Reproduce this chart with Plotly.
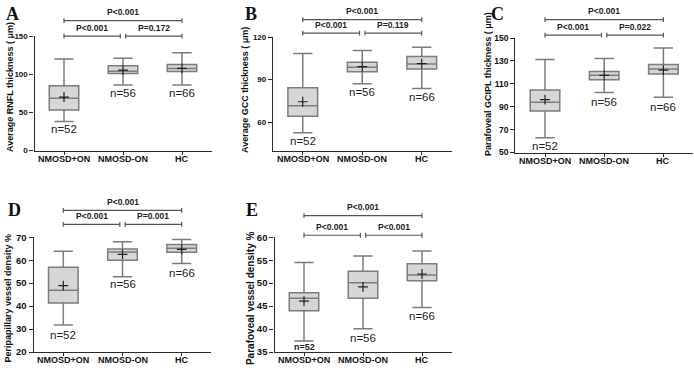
import plotly.graph_objects as go

W, H = 694, 370

groups = ["NMOSD+ON", "NMOSD-ON", "HC"]
n_counts = [52, 56, 66]

# Panel A: Average RNFL thickness
a_low = [38, 86, 86]
a_q1 = [53, 101, 103.5]
a_med = [68.5, 104, 107.5]
a_q3 = [84.8, 111.2, 112.8]
a_high = [120, 121, 128]
a_mean = [70, 105.3, 107.8]

# Panel B: Average GCC thickness
b_low = [52.5, 87.1, 83.7]
b_q1 = [64.1, 95.6, 97.4]
b_med = [71.6, 98.8, 101.0]
b_q3 = [84.2, 102.2, 106.3]
b_high = [108.4, 110.6, 112.9]
b_mean = [74.4, 99.2, 101.3]

# Panel C: Parafoveal GCIPL thickness
c_low = [63.0, 102.4, 98.2]
c_q1 = [86.3, 113.5, 118.6]
c_med = [93.9, 117.5, 122.9]
c_q3 = [104.7, 120.7, 126.8]
c_high = [131.3, 132.2, 141.2]
c_mean = [96.2, 117.4, 122.0]

# Panel D: Peripapillary vessel density
d_low = [31.8, 52.8, 58.6]
d_q1 = [41.4, 60.0, 63.5]
d_med = [46.9, 63.6, 65.2]
d_q3 = [56.9, 64.9, 66.8]
d_high = [63.9, 68.0, 69.0]
d_mean = [48.9, 62.5, 64.7]

# Panel E: Parafoveal vessel density
e_low = [37.4, 40.1, 44.7]
e_q1 = [44.0, 46.7, 50.5]
e_med = [46.7, 50.1, 51.8]
e_q3 = [47.9, 52.6, 54.2]
e_high = [54.5, 55.9, 57.0]
e_mean = [46.1, 49.2, 52.0]

p_labels = {
    "A": ["P<0.001", "P<0.001", "P=0.172"],
    "B": ["P<0.001", "P<0.001", "P=0.119"],
    "C": ["P<0.001", "P<0.001", "P=0.022"],
    "D": ["P<0.001", "P<0.001", "P=0.001"],
    "E": ["P<0.001", "P<0.001", "P<0.001"],
}

y_titles = {
    "A": "Average RNFL thickness ( μm)",
    "B": "Average GCC thickness ( μm)",
    "C": "Parafoveal GCIPL thickness ( μm)",
    "D": "Peripapillary vessel density %",
    "E": "Parafoveal vessel density %",
}

y_ticks = {
    "A": [0, 50, 100, 150],
    "B": [60, 90, 120],
    "C": [50, 70, 90, 110, 130, 150],
    "D": [20, 30, 40, 50, 60, 70],
    "E": [35, 40, 45, 50, 55, 60],
}
y_ranges = {"A": [0, 150], "B": [40, 120], "C": [50, 150], "D": [20, 70], "E": [35, 60]}

stats = {
    "A": (a_low, a_q1, a_med, a_q3, a_high, a_mean),
    "B": (b_low, b_q1, b_med, b_q3, b_high, b_mean),
    "C": (c_low, c_q1, c_med, c_q3, c_high, c_mean),
    "D": (d_low, d_q1, d_med, d_q3, d_high, d_mean),
    "E": (e_low, e_q1, e_med, e_q3, e_high, e_mean),
}

# ---- layout geometry (pixels) ----
panels = {
    #      x0,    x1,    ytop,  ybot
    "A": (34.5, 211.5, 31, 149),
    "B": (273, 451.5, 32, 149),
    "C": (515.4, 693, 33, 151),
    "D": (33.7, 211.3, 238.3, 356.7),
    "E": (274.5, 451.5, 238.3, 356.7),
}
tick_size = {"A": 8, "B": 8, "C": 8.5, "D": 9.5, "E": 9.5}
title_size = {"A": 9, "B": 9, "C": 9, "D": 9, "E": 10}
title_pos = {"A": (9.5, 84), "B": (245.5, 87), "C": (487.5, 81), "D": (8.5, 301), "E": (250, 301)}
letter_pos = {"A": (12, 8), "B": (251.5, 8), "C": (497, 8), "D": (14, 210), "E": (252, 210)}
bracket_y = {"A": (15, 31), "B": (14, 28), "C": (14, 30), "D": (210.7, 225), "E": (216, 236.3)}
n_y = {"A": [127, 90, 90], "B": [139, 89, 94], "C": [144, 99, 104], "D": [339, 287, 275], "E": [351, 341.7, 320]}
cat_label_offset = 8.5  # px below the x-axis line

FONT = "Liberation Sans, Arial, sans-serif"
DARK = "#2a2a2a"

fig = go.Figure()
shapes = []
annotations = []

for k, key in enumerate(["A", "B", "C", "D", "E"], start=1):
    x0, x1, yt, yb = panels[key]
    sfx = "" if k == 1 else str(k)
    xa, ya = "x" + sfx, "y" + sfx
    low, q1, med, q3, high, mean = stats[key]

    fig.add_trace(go.Box(
        x=groups, q1=q1, median=med, q3=q3, lowerfence=low, upperfence=high,
        boxpoints=False, width=0.5, whiskerwidth=0.65,
        fillcolor="#d6d6d6", line=dict(color="#7c7c7c", width=1.5),
        xaxis=xa, yaxis=ya, showlegend=False, hoverinfo="skip",
    ))
    fig.add_trace(go.Scatter(
        x=groups, y=mean, mode="markers",
        marker=dict(symbol="cross-thin", size=7, line=dict(color="#1e1e1e", width=1.2)),
        xaxis=xa, yaxis=ya, showlegend=False, hoverinfo="skip",
    ))

    xdom = [x0 / W, x1 / W]
    ydom = [1 - yb / H, 1 - yt / H]
    fig.update_layout(**{
        "xaxis" + sfx: dict(
            domain=xdom, anchor=ya, type="category", categoryarray=groups,
            range=[-0.5, 2.5], showline=True, linecolor=DARK, linewidth=1.3,
            ticks="outside", ticklen=3, tickwidth=1.2, tickcolor=DARK,
            showticklabels=False,
            showgrid=False, zeroline=False, fixedrange=True,
        ),
        "yaxis" + sfx: dict(
            domain=ydom, anchor=xa, range=y_ranges[key], tickvals=y_ticks[key],
            showline=True, linecolor=DARK, linewidth=1.3,
            ticks="outside", ticklen=4, tickwidth=1.2, tickcolor=DARK,
            tickfont=dict(family=FONT, size=tick_size[key], color="#111", weight="bold"),
            showgrid=False, zeroline=False, fixedrange=True,
        ),
    })

    def fx(i):
        return (i + 0.5) / 3.0

    def fy(ypx):
        return (yb - ypx) / (yb - yt)

    top_y, low_y = bracket_y[key]
    segs = [(0, 2, top_y, p_labels[key][0]),
            (0, 0.955, low_y, p_labels[key][1]),
            (1.045, 2, low_y, p_labels[key][2])]
    xr, yr = xa + " domain", ya + " domain"
    cap = 2.5 / (yb - yt)
    for (i0, i1, ypx, lab) in segs:
        yy = fy(ypx)
        shapes.append(dict(type="line", xref=xr, yref=yr, x0=fx(i0), x1=fx(i1), y0=yy, y1=yy,
                           line=dict(color="#555", width=1.2)))
        for xi in (i0, i1):
            shapes.append(dict(type="line", xref=xr, yref=yr, x0=fx(xi), x1=fx(xi),
                               y0=yy - cap, y1=yy + cap, line=dict(color="#555", width=1.2)))
        annotations.append(dict(xref=xr, yref=yr, x=(fx(i0) + fx(i1)) / 2, y=yy + 1.5 / (yb - yt),
                                text=lab, showarrow=False, yanchor="bottom", xanchor="center",
                                font=dict(family=FONT, size=8.5, color="#222", weight="bold")))

    for i, g in enumerate(groups):
        small = (key == "E" and i == 0)
        annotations.append(dict(xref=xr, yref=yr, x=fx(i), y=fy(n_y[key][i]),
                                text="n=%d" % n_counts[i], showarrow=False,
                                xanchor="center", yanchor="middle",
                                font=dict(family=FONT, size=9 if small else 11.5, color="#222",
                                          weight="bold" if small else "normal")))
        # category label
        annotations.append(dict(xref=xa, yref=yr, x=g, y=fy(yb + cat_label_offset),
                                text=g, showarrow=False, xanchor="center", yanchor="middle",
                                font=dict(family=FONT, size=9, color="#111", weight="bold")))

    tx, ty = title_pos[key]
    annotations.append(dict(xref="paper", yref="paper", x=tx / W, y=1 - ty / H,
                            text=y_titles[key], textangle=-90, showarrow=False,
                            xanchor="center", yanchor="middle",
                            font=dict(family=FONT, size=title_size[key], color="#111", weight="bold")))
    lx, ly = letter_pos[key]
    annotations.append(dict(xref="paper", yref="paper", x=lx / W, y=1 - ly / H,
                            text=key, showarrow=False, xanchor="center", yanchor="middle",
                            font=dict(family="Liberation Serif, Times New Roman, serif", size=18,
                                      color="#111", weight="bold")))

fig.update_layout(
    width=W, height=H, margin=dict(l=0, r=0, t=0, b=0),
    paper_bgcolor="white", plot_bgcolor="white",
    shapes=shapes, annotations=annotations, showlegend=False,
)

fig.write_html("out.html", config={"displayModeBar": False},
               post_script="document.body.style.margin='0';document.body.style.padding='0';"
                           "document.documentElement.style.overflow='hidden';")
